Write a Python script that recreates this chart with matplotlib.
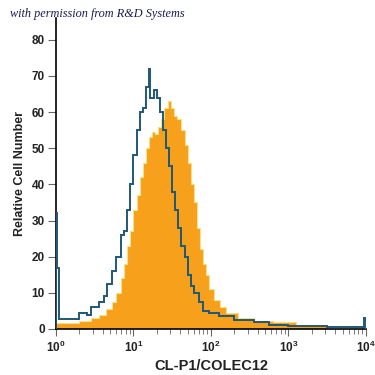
import numpy as np
import matplotlib
matplotlib.use("Agg")
import matplotlib.pyplot as plt

plt.rcParams["mathtext.fontset"] = "custom"
plt.rcParams["mathtext.bf"] = "Liberation Sans:bold"
plt.rcParams["mathtext.rm"] = "Liberation Sans:bold"

# bin edges in log10(fluorescence), counts per bin
blue_edges = [0.00, 0.02, 0.04, 0.30, 0.40, 0.45, 0.55, 0.62, 0.66, 0.72, 0.78, 0.84,
              0.88, 0.92, 0.96, 1.00, 1.04, 1.08, 1.12, 1.16, 1.20, 1.22, 1.26, 1.30,
              1.34, 1.38, 1.42, 1.46, 1.50, 1.54, 1.58, 1.62, 1.66, 1.70, 1.74, 1.78,
              1.84, 1.90, 1.98, 2.10, 2.30, 2.55, 2.75, 3.00, 3.50, 3.98, 4.00]
blue_counts = [32, 17, 2.7, 4.5, 4, 6, 7.5, 9, 12.5, 16, 20, 26,
               27, 33, 40, 48, 55, 60, 61, 67, 72, 64, 66, 64,
               60, 55, 50, 45, 38, 33, 28, 23, 20, 15, 12, 10,
               7.5, 5, 4.3, 3.5, 2.6, 1.8, 1.2, 0.8, 0.5, 3]

orange_edges = [0.00, 0.30, 0.45, 0.55, 0.65, 0.72, 0.78, 0.84, 0.88, 0.92, 0.96, 1.00,
                1.04, 1.08, 1.12, 1.16, 1.20, 1.24, 1.28, 1.32, 1.36, 1.40, 1.44, 1.48,
                1.52, 1.56, 1.62, 1.66, 1.70, 1.74, 1.78, 1.82, 1.86, 1.90, 1.94, 1.98,
                2.04, 2.12, 2.20, 2.35, 2.55, 2.80, 3.10, 3.50]
orange_counts = [1.6, 2.3, 3, 4, 5.5, 7.5, 10, 14, 18, 23, 27,
                 33, 37, 42, 46, 50, 53, 54.5, 54, 56, 58, 61, 63,
                 61, 59, 58, 55, 51, 46, 40, 35, 28, 22, 18, 15,
                 11, 8, 6, 4.5, 3, 2.3, 1.8, 1.2]

yticks = [0, 10, 20, 30, 40, 50, 60, 70, 80]
xticks = [1, 10, 100, 1000, 10000]
xticklabels = [r"$\mathbf{10^{0}}$", r"$\mathbf{10^{1}}$", r"$\mathbf{10^{2}}$",
               r"$\mathbf{10^{3}}$", r"$\mathbf{10^{4}}$"]

sans = ["Liberation Sans", "DejaVu Sans"]

fig = plt.figure(figsize=(3.75, 3.75), dpi=100)
ax = fig.add_axes([0.149, 0.1227, 0.827, 0.829])

ax.stairs(orange_counts, 10 ** np.array(orange_edges), fill=True,
          facecolor="#f7a01c", edgecolor="#f6e08a", linewidth=0.8, zorder=2)
ax.stairs(blue_counts, 10 ** np.array(blue_edges), color="#1f5878",
          linewidth=1.4, zorder=3)

ax.set_xscale("log")
ax.set_xlim(1, 10000)
ax.set_ylim(0, 86)
ax.set_xticks(xticks)
ax.set_xticklabels(xticklabels)
ax.set_yticks(yticks)

for s in ["top", "right"]:
    ax.spines[s].set_visible(False)
for s in ["left", "bottom"]:
    ax.spines[s].set_linewidth(1.2)

ax.tick_params(axis="y", which="major", length=6, width=0.8, color="#666666",
               labelsize=8.5, labelcolor="#222222", pad=2)
ax.tick_params(axis="x", which="major", length=5, width=0.8, color="#666666",
               labelsize=8.5, labelcolor="#222222", pad=3)
ax.tick_params(axis="x", which="minor", length=3.5, width=0.6, color="#666666")
for lab in ax.get_xticklabels() + ax.get_yticklabels():
    lab.set_fontweight("bold")
    lab.set_family(sans)

ax.set_xlabel("CL-P1/COLEC12", fontsize=10.5, fontweight="bold", color="#222222",
              labelpad=3, family=sans)
ax.set_ylabel("Relative Cell Number", fontsize=9, fontweight="bold", color="#222222",
              labelpad=4, family=sans)

fig.text(0.027, 0.955, "with permission from R&D Systems", fontsize=8.8,
         family="Liberation Serif", style="italic", color="#1a1a50")

fig.savefig("out.png", dpi=100)
